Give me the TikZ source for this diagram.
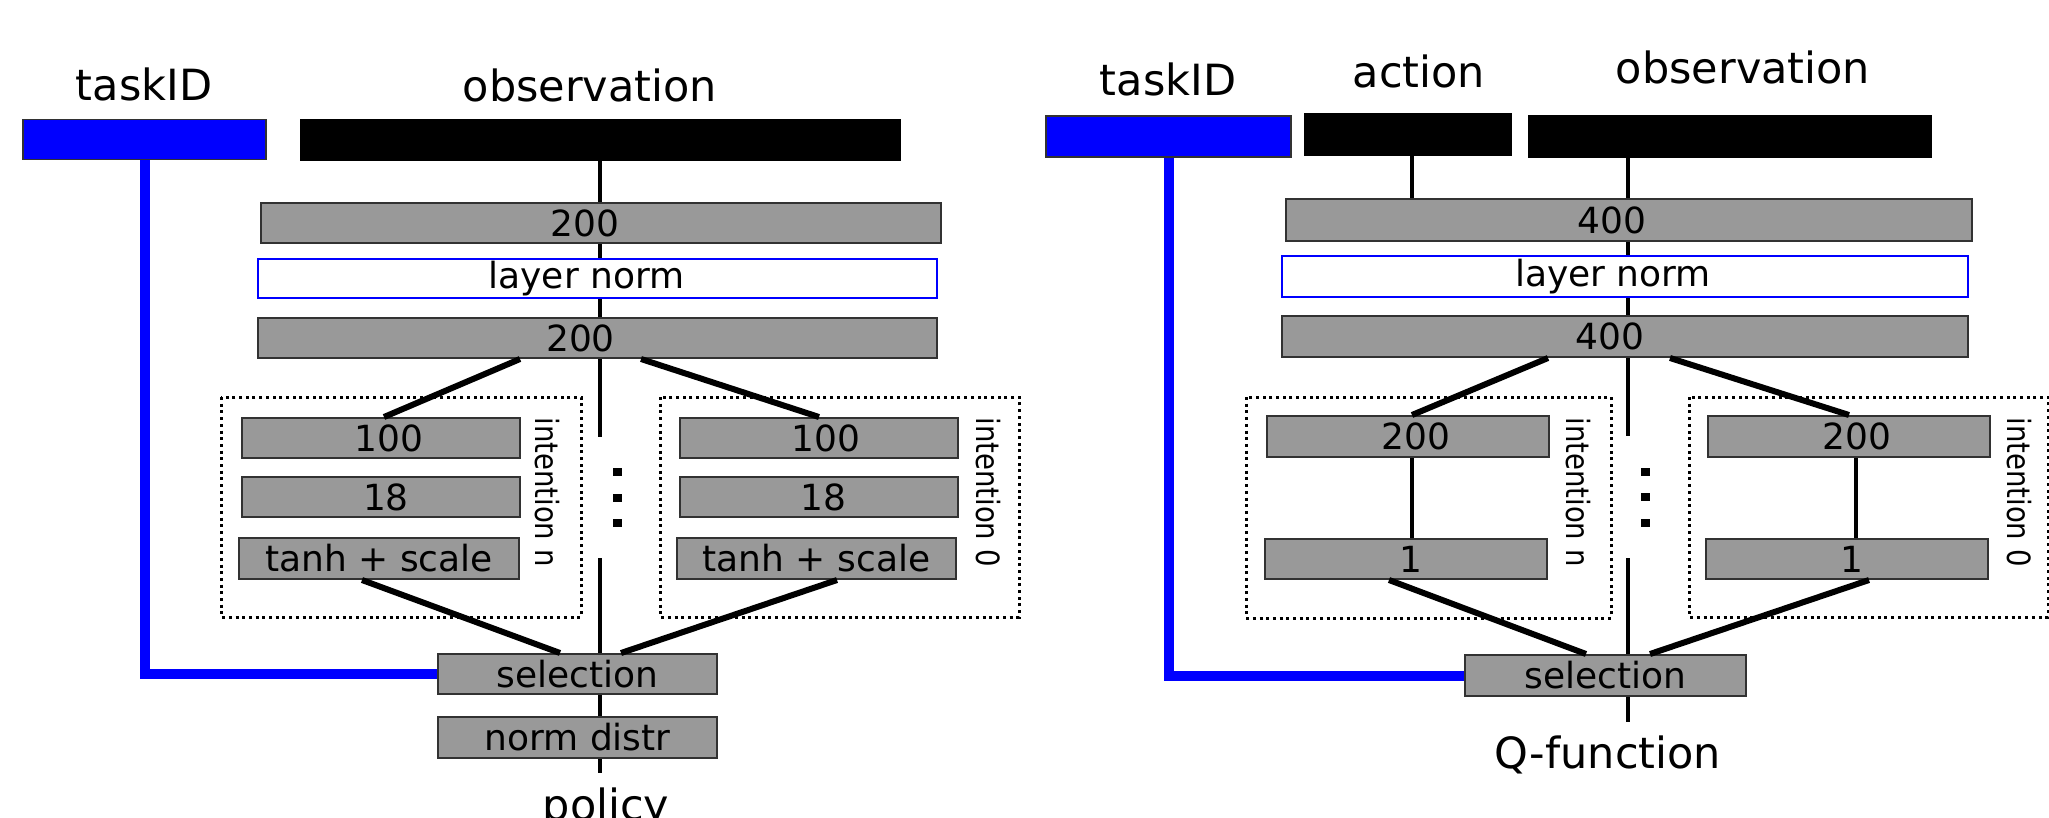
\documentclass[tikz,border=0pt]{standalone}
\usepackage{fontspec}
\setmainfont{DejaVu Sans}
\usetikzlibrary{calc}
\definecolor{boxgray}{RGB}{153,153,153}
\definecolor{edgegray}{RGB}{50,50,50}
\definecolor{pureblue}{RGB}{0,0,255}

\begin{document}
\begin{tikzpicture}[x=1pt,y=-1pt,
  layer/.style={draw=edgegray, fill=boxgray, line width=2pt, inner sep=0pt,
    minimum height=40pt, font=\fontsize{36}{40}\selectfont},
  normbox/.style={draw=pureblue, fill=white, line width=2pt, inner sep=0pt,
    minimum height=40pt, font=\fontsize{36}{40}\selectfont},
  inputbar/.style={draw=black, fill=black, line width=1.5pt, inner sep=0pt, minimum height=40pt},
  taskbar/.style={draw=edgegray, fill=pureblue, line width=1.5pt, inner sep=0pt, minimum height=40pt},
  heading/.style={anchor=base, inner sep=0pt, font=\fontsize{43}{48}\selectfont},
  sidelabel/.style={rotate=-90, xscale=0.86, inner sep=0pt, font=\fontsize{32}{36}\selectfont},
  group/.style={draw=black, line width=3pt, dash pattern=on 3pt off 3.7pt},
  link/.style={draw=black, line width=4.5pt},
  fan/.style={draw=black, line width=6pt},
  route/.style={draw=pureblue, line width=10pt},
  ellipsisdot/.style={fill=black}
]
\useasboundingbox (0,0) rectangle (2049,817);
\clip (0,0) rectangle (2049,817);

% ---------------- policy network ----------------
\draw[group] (221,397) rectangle (581,617);
\draw[group] (660,397) rectangle (1019,617);

\node[taskbar, minimum width=243pt] (ptask) at (144.5,139.5) {};
\node[inputbar, minimum width=599pt] (pobs) at (600.5,140) {};
\node[heading] (ptasklbl) at (144,100) {taskID};
\node[heading] (pobslbl) at (590,101) {observation};

\node[layer, minimum width=680pt] (pfc1) at (601,223) {200\hspace*{32pt}};
\node[normbox, minimum width=679pt, minimum height=39pt] (pln) at (597.5,278.5) {layer norm\hspace*{22pt}};
\node[layer, minimum width=679pt] (pfc2) at (597.5,338) {200\hspace*{34pt}};

\node[layer, minimum width=278pt] (pnA1) at (381,438) {\hspace*{16pt}100};
\node[layer, minimum width=278pt] (pnA2) at (381,497) {\hspace*{10pt}18};
\node[layer, minimum width=280pt, minimum height=41pt] (pnA3) at (379,558.5) {tanh + scale};
\node[sidelabel] (pnlbl) at (547,492) {intention n};

\node[layer, minimum width=278pt] (p0A1) at (819,438) {\hspace*{14pt}100};
\node[layer, minimum width=278pt] (p0A2) at (819,497) {\hspace*{8pt}18};
\node[layer, minimum width=279pt, minimum height=41pt] (p0A3) at (816.5,558.5) {tanh + scale};
\node[sidelabel] (p0lbl) at (988,492) {intention 0};

\node[layer, minimum width=279pt] (psel) at (577.5,674) {selection};
\node[layer, minimum width=279pt, minimum height=41pt] (pdist) at (577.5,737.5) {norm distr};
\node[heading] (pout) at (606,820) {policy};

\coordinate (pcol) at (600,0);
\coordinate (pgapTop) at (600,437);
\coordinate (pgapBot) at (600,558);
\coordinate (pend) at (600,773);
\draw[link] (pcol |- pobs.south) -- (pcol |- pfc1.north);
\draw[link] (pcol |- pfc1.south) -- (pcol |- pln.north);
\draw[link] (pcol |- pln.south) -- (pcol |- pfc2.north);
\draw[link] (pcol |- pfc2.south) -- (pgapTop);
\draw[link] (pgapBot) -- (pcol |- psel.north);
\draw[link] (pcol |- psel.south) -- (pcol |- pdist.north);
\draw[link] (pcol |- pdist.south) -- (pend);

\draw[fan] ($(pfc2.south)+(-77.5,0)$) -- ($(pnA1.north)+(3,0)$);
\draw[fan] ($(pfc2.south)+(43.5,0)$) -- (p0A1.north);
\draw[fan] ($(pnA3.south)+(-17,0)$) -- ($(psel.north)+(-17.5,0)$);
\draw[fan] ($(p0A3.south)+(20.5,0)$) -- ($(psel.north)+(43.5,0)$);

\draw[route] (ptask.south) -- (ptask.south |- psel.west) -- (psel.west);

\foreach \yy in {472,498,523}
  \fill[ellipsisdot] (612.5,\yy-4) rectangle (621.5,\yy+4);

% ---------------- Q-function network ----------------
\draw[group] (1246,397) rectangle (1611,618);
\draw[group] (1689,397) rectangle (2048,617);

\node[taskbar, minimum width=245pt, minimum height=41pt] (qtask) at (1168.5,136.5) {};
\node[inputbar, minimum width=206pt, minimum height=41pt] (qact) at (1408,134.5) {};
\node[inputbar, minimum width=402pt, minimum height=41pt] (qobs) at (1730,136.5) {};
\node[heading] (qtasklbl) at (1168,95) {taskID};
\node[heading] (qactlbl) at (1419,87) {action};
\node[heading] (qobslbl) at (1743,83) {observation};

\node[layer, minimum width=686pt, minimum height=42pt] (qfc1) at (1629,220) {400\hspace*{34pt}};
\node[normbox, minimum width=686pt, minimum height=41pt] (qln) at (1625,276.5) {layer norm\hspace*{24pt}};
\node[layer, minimum width=686pt, minimum height=41pt] (qfc2) at (1625,336.5) {400\hspace*{30pt}};

\node[layer, minimum width=282pt, minimum height=41pt] (qnA1) at (1408,436.5) {\hspace*{16pt}200};
\node[layer, minimum width=282pt] (qnA2) at (1406,559) {\hspace*{10pt}1};
\node[sidelabel] (qnlbl) at (1578,492) {intention n};

\node[layer, minimum width=282pt, minimum height=41pt] (q0A1) at (1849,436.5) {\hspace*{16pt}200};
\node[layer, minimum width=282pt] (q0A2) at (1847,559) {\hspace*{10pt}1};
\node[sidelabel] (q0lbl) at (2019,492) {intention 0};

\node[layer, minimum width=281pt, minimum height=41pt] (qsel) at (1605.5,675.5) {selection};
\node[heading] (qout) at (1608,768) {Q-function};

\coordinate (qcol) at (1628,0);
\coordinate (acol) at (1412,0);
\coordinate (qgapTop) at (1628,436);
\coordinate (qgapBot) at (1628,558);
\coordinate (qend) at (1628,722);
\draw[link] (acol |- qact.south) -- (acol |- qfc1.north);
\draw[link] (qcol |- qobs.south) -- (qcol |- qfc1.north);
\draw[link] (qcol |- qfc1.south) -- (qcol |- qln.north);
\draw[link] (qcol |- qln.south) -- (qcol |- qfc2.north);
\draw[link] (qcol |- qfc2.south) -- (qgapTop);
\draw[link] (qgapBot) -- (qcol |- qsel.north);
\draw[link] (qcol |- qsel.south) -- (qend);

\draw[link] ($(qnA1.south)+(4,0)$) -- ($(qnA2.north)+(6,0)$);
\draw[link] ($(q0A1.south)+(7,0)$) -- ($(q0A2.north)+(9,0)$);

\draw[fan] ($(qfc2.south)+(-77,0)$) -- ($(qnA1.north)+(4,0)$);
\draw[fan] ($(qfc2.south)+(45,0)$) -- (q0A1.north);
\draw[fan] ($(qnA2.south)+(-17,0)$) -- ($(qsel.north)+(-19.5,0)$);
\draw[fan] ($(q0A2.south)+(22,0)$) -- ($(qsel.north)+(44.5,0)$);

\draw[route] (qtask.south) -- (qtask.south |- qsel.west) -- (qsel.west);

\foreach \yy in {472,497,523}
  \fill[ellipsisdot] (1640.5,\yy-4) rectangle (1649.5,\yy+4);
\end{tikzpicture}
\end{document}
